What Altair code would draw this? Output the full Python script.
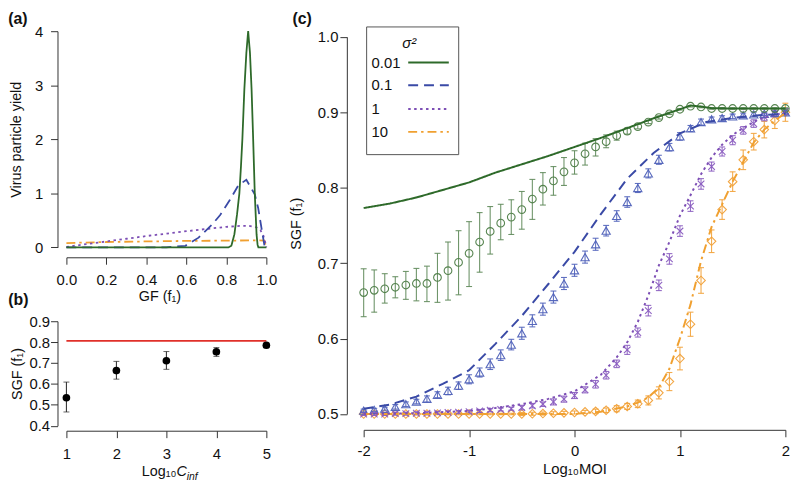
import altair as alt
import pandas as pd

FONT = "Liberation Sans"
INK = "#111111"
AXC = "#333333"

# ---------------- Panel (a): virus particle yield vs GF ----------------
a_green_f = [0.0, 0.81, 0.825, 0.84, 0.853, 0.865, 0.873, 0.88, 0.89, 0.90, 0.909, 0.918, 0.926, 0.934, 0.942, 0.951, 0.956, 0.96, 1.0]
a_green_y = [0, 0, 0.03, 0.24, 0.6, 1.0, 1.5, 2.0, 2.93, 3.6, 4.0, 3.6, 2.93, 2.0, 1.0, 0.24, 0.05, 0, 0]
a_blue_f = [0.0, 0.5, 0.595, 0.661, 0.728, 0.769, 0.818, 0.86, 0.90, 0.942, 0.959, 0.975, 0.992, 1.0]
a_blue_y = [0, 0, 0.03, 0.18, 0.42, 0.6, 0.88, 1.15, 1.25, 0.98, 0.73, 0.37, 0.0, 0.0]
a_purple_f = [0.0, 0.1, 0.2, 0.3, 0.4, 0.5, 0.6, 0.7, 0.8, 0.88, 0.92, 0.95, 0.97, 0.985, 0.995, 1.0]
a_purple_y = [0.01, 0.06, 0.11, 0.16, 0.21, 0.255, 0.3, 0.34, 0.38, 0.40, 0.395, 0.37, 0.32, 0.22, 0.08, 0.0]
a_orange_f = [0.0, 0.2, 0.4, 0.6, 0.8, 0.95, 0.99, 1.0]
a_orange_y = [0.08, 0.10, 0.11, 0.12, 0.125, 0.13, 0.125, 0.0]

# ---------------- Panel (b): SGF vs Log10 Cinf ----------------
b_x = [1, 2, 3, 4, 5]
b_y = [0.534, 0.664, 0.711, 0.754, 0.785]
b_lo = [0.466, 0.623, 0.670, 0.732, 0.774]
b_hi = [0.609, 0.708, 0.755, 0.774, 0.795]
b_ref_x = [1, 5]
b_ref_y = [0.806, 0.806]

# ---------------- Panel (c): SGF vs Log10 MOI ----------------
c_moi = [-2.0, -1.9, -1.8, -1.7, -1.6, -1.5, -1.4, -1.3, -1.2, -1.1,
         -1.0, -0.9, -0.8, -0.7, -0.6, -0.5, -0.4, -0.3, -0.2, -0.1,
         0.0, 0.1, 0.2, 0.3, 0.4, 0.5, 0.6, 0.7, 0.8, 0.9,
         1.0, 1.1, 1.2, 1.3, 1.4, 1.5, 1.6, 1.7, 1.8, 1.9, 2.0]

green_pts = [0.661, 0.664, 0.666, 0.668, 0.671, 0.673, 0.673, 0.681, 0.690, 0.701,
             0.713, 0.728, 0.742, 0.753, 0.761, 0.771, 0.785, 0.798, 0.809, 0.821,
             0.833, 0.845, 0.854, 0.861, 0.869, 0.875, 0.881, 0.887, 0.893, 0.898,
             0.904, 0.908, 0.907, 0.905, 0.905, 0.905, 0.905, 0.905, 0.905, 0.905, 0.905]
green_lo = [0.629, 0.635, 0.647, 0.654, 0.652, 0.650, 0.649, 0.648, 0.651, 0.658,
            0.669, 0.688, 0.712, 0.731, 0.738, 0.745, 0.758, 0.777, 0.790, 0.803,
            0.818, 0.830, 0.842, 0.853, 0.863, 0.871, 0.878, 0.885, 0.891, 0.897,
            0.903, 0.907, 0.906, 0.904, 0.904, 0.904, 0.904, 0.904, 0.904, 0.904, 0.904]
green_hi = [0.6925, 0.691, 0.686, 0.682, 0.689, 0.693, 0.696, 0.713, 0.728, 0.743,
            0.755, 0.767, 0.775, 0.778, 0.784, 0.795, 0.811, 0.820, 0.828, 0.840,
            0.849, 0.859, 0.865, 0.870, 0.875, 0.879, 0.884, 0.889, 0.895, 0.900,
            0.905, 0.909, 0.908, 0.906, 0.906, 0.906, 0.906, 0.906, 0.906, 0.906, 0.906]

blue_pts = [0.5045, 0.5055, 0.507, 0.5095, 0.513, 0.5165, 0.520, 0.5255, 0.5305, 0.5375,
            0.546, 0.555, 0.566, 0.578, 0.592, 0.607, 0.6235, 0.639, 0.655, 0.673,
            0.6905, 0.708, 0.725, 0.743, 0.7625, 0.781, 0.7996, 0.819, 0.837, 0.8537,
            0.868, 0.8785, 0.887, 0.8907, 0.8924, 0.8946, 0.896, 0.8972, 0.898, 0.899, 0.900]
blue_err = [0.002, 0.002, 0.002, 0.003, 0.003, 0.003, 0.004, 0.004, 0.005, 0.005,
            0.006, 0.006, 0.007, 0.007, 0.007, 0.008, 0.008, 0.008, 0.008, 0.008,
            0.008, 0.008, 0.008, 0.007, 0.007, 0.007, 0.006, 0.006, 0.006, 0.005,
            0.005, 0.004, 0.004, 0.003, 0.003, 0.003, 0.003, 0.003, 0.002, 0.002, 0.002]

purple_pts = [0.500, 0.500, 0.500, 0.5005, 0.5005, 0.501, 0.501, 0.5015, 0.502, 0.5025,
              0.503, 0.504, 0.505, 0.506, 0.507, 0.5085, 0.511, 0.513, 0.516, 0.5197,
              0.5245, 0.532, 0.5394, 0.5514, 0.5665, 0.585, 0.608, 0.637, 0.6706, 0.7056,
              0.7425, 0.7756, 0.805, 0.828, 0.848, 0.863, 0.876, 0.885, 0.8937, 0.898, 0.901]
purple_err = [0.002, 0.002, 0.002, 0.002, 0.002, 0.002, 0.002, 0.002, 0.002, 0.002,
              0.002, 0.002, 0.002, 0.002, 0.002, 0.003, 0.003, 0.003, 0.004, 0.004,
              0.004, 0.004, 0.005, 0.005, 0.005, 0.006, 0.006, 0.007, 0.007, 0.007,
              0.007, 0.007, 0.007, 0.006, 0.006, 0.006, 0.005, 0.005, 0.005, 0.004, 0.004]

orange_pts = [0.500, 0.500, 0.500, 0.500, 0.500, 0.500, 0.500, 0.500, 0.500, 0.500,
              0.500, 0.500, 0.500, 0.500, 0.500, 0.500, 0.5003, 0.5006, 0.501, 0.5015,
              0.502, 0.5028, 0.5035, 0.505, 0.507, 0.510, 0.5135, 0.518, 0.528, 0.543,
              0.5735, 0.619, 0.677, 0.729, 0.771, 0.808, 0.837, 0.861, 0.877, 0.889, 0.900]
orange_err = [0.001, 0.001, 0.001, 0.001, 0.001, 0.001, 0.001, 0.001, 0.001, 0.001,
              0.001, 0.001, 0.001, 0.001, 0.001, 0.002, 0.002, 0.002, 0.002, 0.002,
              0.002, 0.002, 0.003, 0.003, 0.004, 0.004, 0.005, 0.006, 0.008, 0.012,
              0.015, 0.016, 0.017, 0.015, 0.013, 0.013, 0.013, 0.011, 0.011, 0.0105, 0.012]

green_line_x = [-2.0, -1.75, -1.5, -1.25, -1.0, -0.75, -0.5, -0.25, 0.0, 0.25, 0.5, 0.75, 1.0, 1.1, 1.2, 1.3, 1.5, 2.0]
green_line_y = [0.773, 0.779, 0.787, 0.797, 0.807, 0.820, 0.831, 0.842, 0.854, 0.866, 0.879, 0.892, 0.904, 0.909, 0.9075, 0.9055, 0.905, 0.905]
blue_line_x = [-2.0, -1.75, -1.5, -1.25, -1.0, -0.75, -0.5, -0.25, 0.0, 0.25, 0.5, 0.75, 1.0, 1.25, 1.5, 1.75, 2.0]
blue_line_y = [0.507, 0.5125, 0.523, 0.540, 0.558, 0.593, 0.630, 0.672, 0.715, 0.765, 0.812, 0.846, 0.872, 0.887, 0.8925, 0.896, 0.898]
purple_line_x = [-2.0, -1.5, -1.0, -0.75, -0.5, -0.25, 0.0, 0.25, 0.4, 0.5, 0.6, 0.7, 0.8, 0.9, 1.0, 1.1, 1.2, 1.3, 1.4, 1.5, 1.6, 1.75, 2.0]
purple_line_y = [0.500, 0.501, 0.504, 0.508, 0.513, 0.520, 0.530, 0.552, 0.575, 0.595, 0.622, 0.657, 0.697, 0.728, 0.763, 0.790, 0.818, 0.840, 0.857, 0.870, 0.879, 0.891, 0.900]
orange_line_x = [-2.0, 0.0, 0.25, 0.5, 0.6, 0.7, 0.8, 0.9, 1.0, 1.1, 1.2, 1.3, 1.4, 1.5, 1.6, 1.7, 1.8, 1.9, 2.0]
orange_line_y = [0.500, 0.500, 0.503, 0.510, 0.515, 0.522, 0.535, 0.560, 0.600, 0.645, 0.703, 0.748, 0.778, 0.808, 0.834, 0.860, 0.877, 0.889, 0.899]

legend_labels = ["0.01", "0.1", "1", "10"]

# styles
LINE_COL = {"g": "#2e6a2a", "b": "#3a4aa6", "p": "#7d4fb5", "o": "#f0a030"}
PT_COL = {"g": "#4f7f48", "b": "#5062ba", "p": "#8a5cc0", "o": "#f2a23a"}
BAR_COL = {"g": "#5f8a5a", "b": "#5062ba", "p": "#8a5cc0", "o": "#f2a23a"}
DASH = {"g": [1, 0], "b": [10, 6], "p": [2.5, 3.5], "o": [9, 4, 2.5, 4]}

W_L, H_A, H_B = 202, 218.4, 105.6
W_C = 426
LBL = 15


def ax(**kw):
    base = dict(domainColor=AXC, tickColor=AXC, labelColor=INK, titleColor=INK,
                labelFont=FONT, titleFont=FONT, labelFontSize=LBL, titleFontSize=14.5,
                titleFontWeight="normal", tickSize=7, grid=False, domainWidth=1,
                tickWidth=1, labelFlush=False)
    base.update(kw)
    return alt.Axis(**base)


def txt(t, x, y, **kw):
    style = dict(font=FONT, color=INK, fontSize=14.5, align="left", baseline="middle")
    style.update(kw)
    return alt.Chart(pd.DataFrame({"t": [t]})).mark_text(**style).encode(
        x=alt.value(x), y=alt.value(y), text="t:N")


# ---------------- build panel (a) ----------------
XA = alt.X("f:Q", scale=alt.Scale(domain=[0, 1], nice=False, zero=False),
           axis=ax(values=[0, 0.2, 0.4, 0.6, 0.8, 1.0], format=".1f", offset=10,
                   labelPadding=8, title="GF (f₁)", titlePadding=3, titleX=94))
YA = alt.Y("y:Q", scale=alt.Scale(domain=[0, 4], nice=False),
           axis=ax(values=[0, 1, 2, 3, 4], offset=9, labelPadding=8,
                   title="Virus particle yield", titlePadding=11))

a_layers = []
for key, fs, ys in [("o", a_orange_f, a_orange_y), ("p", a_purple_f, a_purple_y),
                    ("b", a_blue_f, a_blue_y), ("g", a_green_f, a_green_y)]:
    a_layers.append(
        alt.Chart(pd.DataFrame({"f": fs, "y": ys})).mark_line(
            color=LINE_COL[key], strokeDash=DASH[key], strokeWidth=1.8
        ).encode(x=XA, y=YA)
    )
a_layers.append(txt("(a)", -58.7, -20.3, fontSize=16, fontWeight="bold", baseline="top"))
panel_a = alt.layer(*a_layers).properties(width=W_L, height=H_A)

# ---------------- build panel (b) ----------------
XB_sc = alt.Scale(domain=[1, 5], nice=False, zero=False)
YB_sc = alt.Scale(domain=[0.4, 0.9], nice=False, zero=False)
XB = alt.X("x:Q", scale=XB_sc, axis=ax(values=[1, 2, 3, 4, 5], format="d", offset=5,
                                     labelPadding=9, title=None))
YB_axis = ax(values=[0.4, 0.5, 0.6, 0.7, 0.8, 0.9], format=".1f", offset=9,
             labelPadding=1, title="SGF (f₁)", titlePadding=5)

df_b = pd.DataFrame({"x": b_x, "y": b_y, "lo": b_lo, "hi": b_hi})
df_b_caps = pd.DataFrame({"x": b_x + b_x, "cap": b_lo + b_hi})
b_ref = alt.Chart(pd.DataFrame({"x": b_ref_x, "y": b_ref_y})).mark_line(
    color="#e0302a", strokeWidth=1.8).encode(x=XB, y=alt.Y("y:Q", scale=YB_sc, axis=YB_axis))
b_bars = alt.Chart(df_b).mark_rule(color="#222", strokeWidth=1).encode(
    x=XB, y=alt.Y("lo:Q", scale=YB_sc, axis=YB_axis), y2="hi:Q")
b_caps = alt.Chart(df_b_caps).mark_tick(orient="horizontal", size=6, thickness=1, color="#222").encode(
    x=XB, y=alt.Y("cap:Q", scale=YB_sc, axis=YB_axis))
b_pts = alt.Chart(df_b).mark_point(shape="circle", filled=True, size=60, color="#000", opacity=1).encode(
    x=XB, y=alt.Y("y:Q", scale=YB_sc, axis=YB_axis))
b_title = [
    txt("Log₁₀", 111.3, 156.3, align="right", baseline="alphabetic"),
    txt("C", 111.3, 156.3, fontStyle="italic", baseline="alphabetic"),
    txt("inf", 121.6, 160.5, fontStyle="italic", fontSize=10.5, baseline="alphabetic"),
    txt("(b)", -58.7, -29.7, fontSize=16, fontWeight="bold", baseline="top"),
]
panel_b = alt.layer(b_ref, b_bars, b_caps, b_pts, *b_title).properties(width=W_L, height=H_B)

# ---------------- build panel (c) ----------------
XC_sc = alt.Scale(domain=[-2, 2], nice=False, zero=False)
YC_sc = alt.Scale(domain=[0.5, 1.0], nice=False, zero=False, range=[386.7, 5.7])
XC_axis = ax(values=[-2, -1, 0, 1, 2], format="d", offset=184.3, labelPadding=7,
             labelExpr="replace(datum.label, '\u2212', '-')",
             title="Log₁₀MOI", titlePadding=3, titleFontSize=15)
YC_axis = ax(values=[0.5, 0.6, 0.7, 0.8, 0.9, 1.0], format=".1f", offset=17,
             labelPadding=2, title="SGF (f₁)", titlePadding=14, titleY=194)


def XC(field):
    return alt.X(field, scale=XC_sc, axis=XC_axis)


def YC(field):
    return alt.Y(field, scale=YC_sc, axis=YC_axis)


X_PATH = "M-1,-1L1,1M-1,1L1,-1"
series = [
    ("o", orange_pts, [p - e for p, e in zip(orange_pts, orange_err)],
     [p + e for p, e in zip(orange_pts, orange_err)], "diamond", 75),
    ("p", purple_pts, [p - e for p, e in zip(purple_pts, purple_err)],
     [p + e for p, e in zip(purple_pts, purple_err)], X_PATH, 45),
    ("b", blue_pts, [p - e for p, e in zip(blue_pts, blue_err)],
     [p + e for p, e in zip(blue_pts, blue_err)], "triangle-up", 70),
    ("g", green_pts, green_lo, green_hi, "circle", 60),
]
lines = {"g": (green_line_x, green_line_y), "b": (blue_line_x, blue_line_y),
         "p": (purple_line_x, purple_line_y), "o": (orange_line_x, orange_line_y)}

c_layers = []
for key, pts, lo, hi, shape, size in series:
    df = pd.DataFrame({"moi": c_moi, "v": pts, "lo": lo, "hi": hi})
    caps = pd.DataFrame({"moi": c_moi + c_moi, "cap": lo + hi})
    c_layers.append(alt.Chart(df).mark_rule(color=BAR_COL[key], strokeWidth=1.1, opacity=0.9).encode(
        x=XC("moi:Q"), y=YC("lo:Q"), y2="hi:Q"))
    c_layers.append(alt.Chart(caps).mark_tick(orient="horizontal", size=6, thickness=1.1,
                                              color=BAR_COL[key], opacity=0.9).encode(
        x=XC("moi:Q"), y=YC("cap:Q")))
    c_layers.append(alt.Chart(df).mark_point(shape=shape, size=size, filled=False, strokeWidth=1.1,
                                             color=PT_COL[key], opacity=0.95).encode(
        x=XC("moi:Q"), y=YC("v:Q")))
for key in ["o", "p", "b", "g"]:
    lx, ly = lines[key]
    c_layers.append(alt.Chart(pd.DataFrame({"x": lx, "y": ly})).mark_line(
        color=LINE_COL[key], strokeDash=DASH[key], strokeWidth=2).encode(x=XC("x:Q"), y=YC("y:Q")))

# legend box (manual, labels left of line samples as in the original)
c_layers.append(alt.Chart(pd.DataFrame({"t": [0]})).mark_rect(
    fill="white", stroke="#555555", strokeWidth=1).encode(
    x=alt.value(3), x2=alt.value(96), y=alt.value(-4.3), y2=alt.value(124.7)))
c_layers.append(txt("σ²", 46, 11.7, align="center", fontStyle="italic", fontSize=15))
leg_y = [31.7, 54.7, 78.7, 101.7]
for lab, yy, key in zip(legend_labels, leg_y, ["g", "b", "p", "o"]):
    c_layers.append(txt(lab, 8, yy, fontSize=15))
    c_layers.append(alt.Chart(pd.DataFrame({"t": [0]})).mark_rule(
        color=LINE_COL[key], strokeDash=DASH[key], strokeWidth=2).encode(
        x=alt.value(45), x2=alt.value(86), y=alt.value(yy)))
c_layers.append(txt("(c)", -72, -20.3, fontSize=16, fontWeight="bold", baseline="top"))

panel_c = alt.layer(*c_layers).properties(width=W_C, height=H_A)

chart = alt.concat(
    panel_a, panel_c, panel_b, columns=2,
    spacing={"row": 74, "column": 98.3}, bounds="flush",
    padding={"left": 0, "top": 0, "right": 0, "bottom": 0},
    background="white",
).configure(font=FONT).configure_view(stroke=None)

chart.save("out.html", embed_options={"renderer": "svg", "actions": False})
